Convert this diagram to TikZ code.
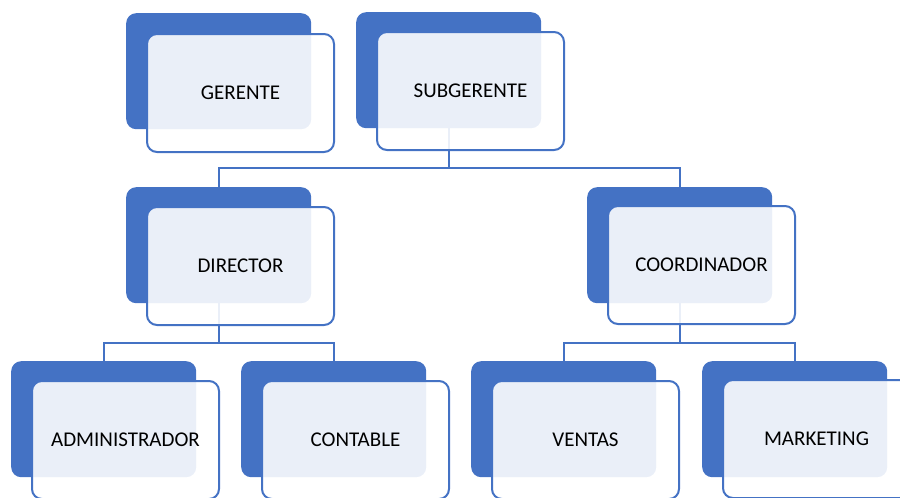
\documentclass[tikz,border=0pt]{standalone}
\usepackage{fontspec}
\setmainfont{Carlito}
\definecolor{accent}{HTML}{4472C4}
\definecolor{linkblue}{HTML}{4472C4}
\begin{document}
\begin{tikzpicture}[x=1pt,y=-1pt,
  backbox/.style={fill=accent,rounded corners=10pt,minimum width=185pt,minimum height=116pt,inner sep=0pt,anchor=north west},
  frontbox/.style={draw=accent,line width=2pt,fill=white,fill opacity=0.89,text opacity=1,rounded corners=10pt,
    minimum width=187pt,minimum height=118pt,inner sep=0pt,anchor=north west,font=\fontsize{21}{24}\selectfont},
  link/.style={draw=linkblue,line width=1.8pt}]
\useasboundingbox (0,0) rectangle (900,498);
\clip (0,0) rectangle (900,498);
% back panels
\node[backbox] (gerB) at (126,13) {};
\node[backbox] (subB) at (356,12) {};
\node[backbox] (dirB) at (126,187) {};
\node[backbox] (coB)  at (587,187) {};
\node[backbox] (admB) at (11,361) {};
\node[backbox] (conB) at (241,361) {};
\node[backbox] (venB) at (471,361) {};
\node[backbox] (marB) at (702,361) {};
% connectors
\coordinate (j1) at (subB.south |- 0,168);
\coordinate (j2) at (dirB.south |- 0,343);
\coordinate (j3) at (coB.south |- 0,343);
\path[link] (subB.south) -- (j1) -| (dirB.north);
\path[link] (j1) -| (coB.north);
\path[link] (dirB.south) -- (j2) -| (admB.north);
\path[link] (j2) -| (conB.north);
\path[link] (coB.south) -- (j3) -| (venB.north);
\path[link] (j3) -| (marB.north);
% front cards
\node[frontbox] (ger) at (146,33) {GERENTE};
\node[frontbox] (sub) at (376,31) {SUBGERENTE};
\node[frontbox] (dir) at (146,206) {DIRECTOR};
\node[frontbox] (co)  at (607,205) {COORDINADOR};
\node[frontbox] (adm) at (31,380) {ADMINISTRADOR};
\node[frontbox] (con) at (261,380) {CONTABLE};
\node[frontbox] (ven) at (491,380) {VENTAS};
\node[frontbox] (mar) at (722,379) {MARKETING};
\end{tikzpicture}
\end{document}
